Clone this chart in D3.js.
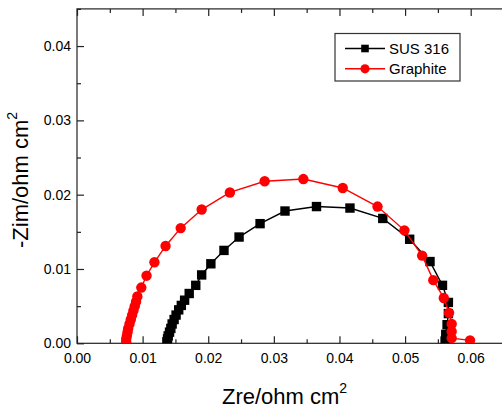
<!DOCTYPE html>
<html>
<head>
<meta charset="utf-8">
<script src="https://cdn.jsdelivr.net/npm/d3@7"></script>
<style>
  body { margin: 0; background: #fff; }
  svg { display: block; font-family: "Liberation Sans", Arial, sans-serif; }
</style>
</head>
<body>
<svg id="chart" width="502" height="409"></svg>
<script>
// series values (Zre, -Zim in ohm cm2)
const susX = [0.0137, 0.0138, 0.0139, 0.0141, 0.0143, 0.0145, 0.0148, 0.0151, 0.0155, 0.0159,
  0.0164, 0.0171, 0.0181, 0.0190, 0.0204, 0.0224, 0.0247, 0.0279, 0.0317, 0.0365,
  0.0416, 0.0466, 0.0507, 0.0538, 0.0557, 0.0566, 0.0566, 0.0564, 0.0562, 0.0561];
const susY = [0.0002, 0.0006, 0.0010, 0.0015, 0.0020, 0.0026, 0.0032, 0.0038, 0.0045, 0.0051,
  0.0058, 0.0067, 0.0078, 0.0092, 0.0107, 0.0125, 0.0143, 0.0161, 0.0178, 0.0184,
  0.0182, 0.0168, 0.0140, 0.0110, 0.0078, 0.0055, 0.0040, 0.0025, 0.0012, 0.0003];

const graphiteX = [0.0075, 0.0075, 0.0076, 0.0077, 0.0078, 0.0080, 0.0082, 0.0084, 0.0086, 0.0088,
  0.0090, 0.0092, 0.0098, 0.0106, 0.0118, 0.0135, 0.0158, 0.0190, 0.0233, 0.0286,
  0.0345, 0.0405, 0.0458, 0.0499, 0.0526, 0.0543, 0.0559, 0.0567, 0.0571, 0.0571,
  0.0571, 0.0599];
const graphiteY = [0.0002, 0.0006, 0.0010, 0.0015, 0.0020, 0.0026, 0.0032, 0.0038, 0.0044, 0.0050,
  0.0056, 0.0063, 0.0075, 0.0091, 0.0109, 0.0131, 0.0155, 0.0180, 0.0203, 0.0218,
  0.0221, 0.0209, 0.0184, 0.0152, 0.0118, 0.0085, 0.0061, 0.0041, 0.0026, 0.0016,
  0.0007, 0.0004];

const seriesNames = ['SUS 316', 'Graphite'];
const xTicks = [0, 0.01, 0.02, 0.03, 0.04, 0.05, 0.06];
const yTicks = [0, 0.01, 0.02, 0.03, 0.04];
const xMinor = [0.005, 0.015, 0.025, 0.035, 0.045, 0.055, 0.065];
const yMinor = [0.005, 0.015, 0.025, 0.035, 0.045];

const svg = d3.select('#chart');

const plotLeft = 77;
const plotRight = 503.5;
const plotTop = 8.9;
const plotBottom = 343.3;

const x = d3.scaleLinear().domain([0, 0.065]).range([plotLeft, plotRight]);
const y = d3.scaleLinear().domain([0, 0.045]).range([plotBottom, plotTop]);

const series = [
  { name: seriesNames[0], color: '#000', shape: 'square',
    data: susX.map((v, i) => [v, susY[i]]) },
  { name: seriesNames[1], color: '#ff0000', shape: 'circle',
    data: graphiteX.map((v, i) => [v, graphiteY[i]]) },
];

svg.append('defs')
  .append('clipPath')
  .attr('id', 'plotClip')
  .append('rect')
  .attr('x', plotLeft)
  .attr('y', plotTop)
  .attr('width', plotRight - plotLeft)
  .attr('height', plotBottom - plotTop);

// frame
svg.append('rect')
  .attr('x', plotLeft)
  .attr('y', plotTop)
  .attr('width', plotRight - plotLeft)
  .attr('height', plotBottom - plotTop)
  .attr('fill', 'none')
  .attr('stroke', '#222')
  .attr('stroke-width', 1.2);

const fmt = d3.format('.2f');

// axes with inward ticks
const xAxis = svg.append('g').attr('transform', `translate(0, ${plotBottom})`)
  .call(d3.axisBottom(x).tickValues(xTicks).tickSize(-7).tickPadding(12).tickFormat(fmt));
const xAxisMinor = svg.append('g').attr('transform', `translate(0, ${plotBottom})`)
  .call(d3.axisBottom(x).tickValues(xMinor).tickSize(-4).tickFormat(''));
const xTop = svg.append('g').attr('transform', `translate(0, ${plotTop})`)
  .call(d3.axisTop(x).tickValues(xTicks).tickSize(-7).tickFormat(''));
const xTopMinor = svg.append('g').attr('transform', `translate(0, ${plotTop})`)
  .call(d3.axisTop(x).tickValues(xMinor).tickSize(-4).tickFormat(''));
const yAxis = svg.append('g').attr('transform', `translate(${plotLeft}, 0)`)
  .call(d3.axisLeft(y).tickValues(yTicks).tickSize(-7).tickPadding(6).tickFormat(fmt));
const yAxisMinor = svg.append('g').attr('transform', `translate(${plotLeft}, 0)`)
  .call(d3.axisLeft(y).tickValues(yMinor).tickSize(-4).tickFormat(''));

[xAxis, xAxisMinor, xTop, xTopMinor, yAxis, yAxisMinor].forEach((g) => {
  g.select('.domain').remove();
  g.selectAll('line').attr('stroke', '#222').attr('stroke-width', 1.2);
  g.selectAll('text')
    .attr('fill', '#000')
    .style('font-size', '14px')
    .style('font-family', '"Liberation Sans", Arial, sans-serif');
});
xAxis.selectAll('text').attr('dy', '0.71em').attr('y', 10);

// axis titles
const xTitle = svg.append('text')
  .attr('x', 222)
  .attr('y', 404)
  .attr('font-size', 22)
  .attr('fill', '#000');
xTitle.append('tspan').text('Zre/ohm cm');
xTitle.append('tspan').attr('font-size', 14).attr('dy', -11).text('2');

const yTitle = svg.append('text')
  .attr('transform', 'translate(28, 248) rotate(-90)')
  .attr('font-size', 22)
  .attr('fill', '#000');
yTitle.append('tspan').text('-Zim/ohm cm');
yTitle.append('tspan').attr('font-size', 14).attr('dy', -11).text('2');

// series
const plot = svg.append('g').attr('clip-path', 'url(#plotClip)');
const line = d3.line().x((d) => x(d[0])).y((d) => y(d[1]));

series.forEach((s) => {
  const g = plot.append('g');
  g.append('path')
    .datum(s.data)
    .attr('fill', 'none')
    .attr('stroke', s.color)
    .attr('stroke-width', 1.4)
    .attr('d', line);

  if (s.shape === 'square') {
    g.selectAll('rect')
      .data(s.data)
      .enter()
      .append('rect')
      .attr('x', (d) => x(d[0]) - 4.7)
      .attr('y', (d) => y(d[1]) - 4.7)
      .attr('width', 9.4)
      .attr('height', 9.4)
      .attr('fill', s.color);
  } else {
    g.selectAll('circle')
      .data(s.data)
      .enter()
      .append('circle')
      .attr('cx', (d) => x(d[0]))
      .attr('cy', (d) => y(d[1]))
      .attr('r', 5.2)
      .attr('fill', s.color);
  }
});

// legend
const legend = svg.append('g');
legend.append('rect')
  .attr('x', 335)
  .attr('y', 33.5)
  .attr('width', 125)
  .attr('height', 47.5)
  .attr('fill', '#fff')
  .attr('stroke', '#333')
  .attr('stroke-width', 1.2);

series.forEach((s, i) => {
  const ly = 48.5 + i * 20.3;
  legend.append('line')
    .attr('x1', 345).attr('x2', 385)
    .attr('y1', ly).attr('y2', ly)
    .attr('stroke', s.color)
    .attr('stroke-width', 1.4);
  if (s.shape === 'square') {
    legend.append('rect')
      .attr('x', 365 - 3.8).attr('y', ly - 3.8)
      .attr('width', 7.6).attr('height', 7.6)
      .attr('fill', s.color);
  } else {
    legend.append('circle')
      .attr('cx', 365).attr('cy', ly)
      .attr('r', 4.6)
      .attr('fill', s.color);
  }
  legend.append('text')
    .attr('x', 389)
    .attr('y', ly + 5.4)
    .attr('font-size', 15)
    .attr('fill', '#000')
    .text(s.name);
});
</script>
</body>
</html>
